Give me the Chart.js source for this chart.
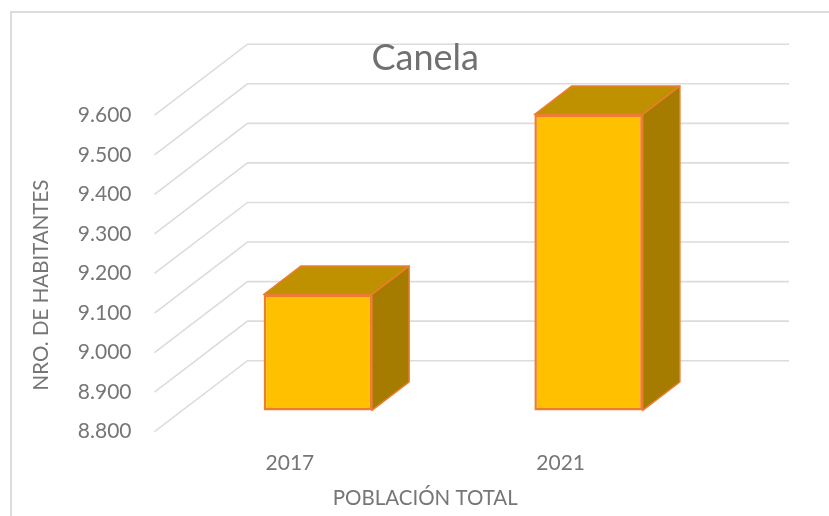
<!DOCTYPE html>
<html lang="es">
<head>
<meta charset="utf-8">
<title>Canela</title>
<script src="https://cdn.jsdelivr.net/npm/chart.js@4/dist/chart.umd.min.js"></script>
<style>
  html, body { margin: 0; padding: 0; background: #fff; overflow: hidden; }
  #marco { position: absolute; left: 10px; top: 11px; width: 900px; height: 600px; border: 2px solid #dcdcdc; }
  #chartCanela { position: absolute; left: 0; top: 0; }
</style>
</head>
<body>
<div id="marco"></div>
<canvas id="chartCanela" width="829" height="516"></canvas>
<script>
  // Datos
  const categorias = ['2017', '2021'];
  const poblacion = [9093, 9548];
  const valorMin = 8800;
  const valorMax = 9600;
  const paso = 100;
  const tituloEjeY = 'NRO. DE HABITANTES';

  // Perspectiva 3D del piso, en px
  const fondoX = 93;
  const fondoY = -71;
  const inicioBarra = 0.3;   // donde empieza la cara frontal dentro del fondo
  const largoBarra = 0.4;    // cuanto ocupa la barra dentro del fondo

  const colorTexto = '#767676';
  const colorGrilla = '#dcdcdc';
  const fuente = 'Lato';

  function poligono(ctx, puntos, relleno) {
    ctx.beginPath();
    puntos.forEach((p, i) => i ? ctx.lineTo(p[0], p[1]) : ctx.moveTo(p[0], p[1]));
    ctx.closePath();
    ctx.fillStyle = relleno;
    ctx.fill();
    ctx.strokeStyle = '#ed7d31';
    ctx.lineWidth = 1.5;
    ctx.lineJoin = 'round';
    ctx.stroke();
  }

  // Paredes y caras laterales que Chart.js no dibuja
  const plugin3d = {
    id: 'plugin3d',
    beforeDraw(chart) {
      // La grilla va antes que los textos: el título queda encima de la línea superior
      const { ctx, chartArea, scales } = chart;
      ctx.save();
      ctx.strokeStyle = colorGrilla;
      ctx.lineWidth = 1.6;
      for (let v = valorMin; v <= valorMax; v += paso) {
        const y = scales.y.getPixelForValue(v);
        ctx.beginPath();
        ctx.moveTo(chartArea.left, y);
        ctx.lineTo(chartArea.left + fondoX, y + fondoY);
        ctx.lineTo(chartArea.right + fondoX, y + fondoY);
        ctx.stroke();
      }
      ctx.restore();
    },
    beforeDatasetsDraw(chart) {
      const { ctx } = chart;
      const dx = fondoX * largoBarra;
      const dy = fondoY * largoBarra;

      // Las barras se dibujan desplazadas hacia el fondo, se restaura en afterDatasetsDraw
      ctx.save();
      ctx.translate(fondoX * inicioBarra, fondoY * inicioBarra);
      chart.getDatasetMeta(0).data.forEach(barra => {
        const izq = barra.x - barra.width / 2;
        const der = barra.x + barra.width / 2;
        poligono(ctx, [[izq, barra.y], [izq + dx, barra.y + dy], [der + dx, barra.y + dy], [der, barra.y]], '#bf9000');
        poligono(ctx, [[der, barra.y], [der + dx, barra.y + dy], [der + dx, barra.base + dy], [der, barra.base]], '#a67c00');
      });
    },
    afterDatasetsDraw(chart) {
      const { ctx } = chart;
      ctx.restore();

      // Título del eje Y: en el original no queda centrado respecto al eje
      ctx.save();
      ctx.translate(41, 285);
      ctx.rotate(-Math.PI / 2);
      ctx.textAlign = 'center';
      ctx.textBaseline = 'middle';
      ctx.fillStyle = colorTexto;
      ctx.font = '20.5px ' + fuente;
      ctx.fillText(tituloEjeY, 0, 0);
      ctx.restore();
    }
  };

  new Chart(document.getElementById('chartCanela').getContext('2d'), {
    type: 'bar',
    data: {
      labels: categorias,
      datasets: [{
        label: 'Población total',
        data: poblacion,
        base: valorMin,
        backgroundColor: '#ffc000',
        borderColor: '#ed7d31',
        borderWidth: 2.5,
        borderSkipped: false,
        categoryPercentage: 0.8,
        barPercentage: 0.5,
        clip: false
      }]
    },
    options: {
      responsive: false,
      animation: false,
      layout: {
        autoPadding: false,
        padding: { left: 0, right: 133, top: 0, bottom: 0 }
      },
      plugins: {
        legend: { display: false },
        tooltip: { enabled: false },
        title: {
          display: true,
          text: 'Canela',
          fullSize: false,
          color: '#707070',
          font: { family: fuente, size: 36, weight: 'normal', lineHeight: 1.2 },
          padding: { top: 37, bottom: 35 }
        }
      },
      scales: {
        x: {
          grid: { display: false },
          border: { display: false },
          ticks: { color: colorTexto, padding: 11, maxRotation: 0, font: { family: fuente, size: 21 } },
          title: {
            display: true,
            text: 'POBLACIÓN TOTAL',
            color: colorTexto,
            font: { family: fuente, size: 20.5 },
            padding: { top: 6, bottom: 5 }
          },
          afterFit(scale) { scale.height = 84.3; }
        },
        y: {
          min: valorMin,
          max: valorMax,
          grid: { display: false },
          border: { display: false },
          ticks: {
            stepSize: paso,
            color: colorTexto,
            padding: 15,
            font: { family: fuente, size: 21 },
            callback: value => value.toString().replace(/(\d)(\d{3})$/, '$1.$2')
          },
          afterFit(scale) { scale.width = 154.5; }
        }
      }
    },
    plugins: [plugin3d]
  });
</script>
</body>
</html>
